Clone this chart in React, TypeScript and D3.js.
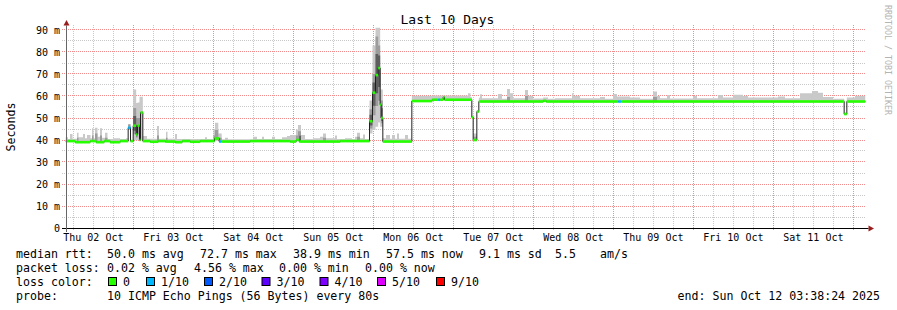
import React from "react";
import * as d3 from "d3";

// ---------- data ----------
const startMs = Date.UTC(2025, 9, 2, 3, 38, 24);
const spanHours = 240;
const title = "Last 10 Days";
const yAxisLabel = "Seconds";
const watermark = "RRDTOOL / TOBI OETIKER";

// median rtt (ms) as steps: hours after start, value, lost pings of 10
const medianHours = [0, 2.9, 7.4, 9.2, 11.6, 13.4, 16.4, 18.8, 19.5, 20.3, 21.2, 21.6, 22.2, 22.5, 23.2, 25.4, 27.8, 29.9, 32.9, 35.0, 37.4, 40.4, 44.7, 46.1, 46.7, 55.4, 67.4, 69.2, 70.1, 82.4, 91.2, 92.1, 93.0, 93.8, 94.4, 94.7, 95.2, 103.9, 110.0, 111.8, 112.4, 113.3, 113.7, 121.9, 122.3, 123.4, 124.0, 143.3, 144.2, 165.8, 166.7, 233.6, 234.4];
const medianValues = [39.5, 39.0, 39.5, 39.0, 39.5, 39.0, 39.5, 45.6, 39.5, 46.5, 42.5, 46.5, 40.0, 52.5, 39.5, 39.2, 39.5, 39.3, 39.0, 39.5, 39.2, 39.5, 40.7, 39.3, 39.3, 39.5, 39.3, 40.0, 39.3, 39.5, 48.5, 61.5, 69.5, 72.7, 56.0, 50.0, 39.3, 57.7, 58.3, 58.3, 58.3, 59.5, 58.3, 50.3, 40.0, 52.9, 57.5, 57.8, 57.5, 57.5, 57.5, 51.8, 57.5];
const medianLoss = [0, 0, 0, 0, 0, 0, 0, 1, 0, 0, 0, 0, 0, 0, 0, 0, 0, 0, 0, 0, 0, 0, 0, 1, 0, 0, 0, 0, 0, 0, 0, 0, 0, 0, 0, 0, 0, 0, 0, 1, 0, 0, 0, 0, 0, 0, 0, 0, 0, 1, 0, 0, 0];

// smoke (spread of the 10 pings): hours after start, max rtt, inner band top, min rtt
const smokeHours = [0, 0.75, 1.35, 2.1, 3.45, 3.9, 5.25, 5.85, 6.45, 7.5, 7.95, 8.4, 8.85, 9.6, 10.35, 10.95, 11.85, 12.6, 14.25, 16.35, 18.15, 18.8, 19.5, 20.3, 21.2, 21.6, 22.2, 23.2, 24.45, 27.45, 28.05, 30.15, 30.6, 32.85, 33.45, 41.85, 42.45, 44.4, 44.85, 45.84, 46.86, 47.85, 48.75, 56.25, 57.45, 58.95, 59.55, 61.95, 62.85, 64.95, 66.45, 67.35, 69.15, 69.75, 70.65, 71.85, 74.25, 76.35, 77.25, 78.15, 80.85, 81.45, 83.85, 85.95, 86.85, 87.45, 88.35, 89.25, 89.85, 91.2, 92.1, 93.0, 93.8, 94.4, 95.2, 96.15, 97.35, 97.95, 98.85, 99.45, 100.05, 101.85, 102.75, 103.9, 110.0, 120.75, 121.5, 121.9, 122.3, 123.4, 124.0, 124.35, 124.95, 129.75, 130.95, 132.45, 133.35, 134.25, 137.85, 138.75, 140.25, 143.3, 144.75, 146.85, 151.95, 152.4, 154.35, 160.35, 161.85, 164.25, 165.45, 169.35, 172.35, 176.25, 177.45, 178.35, 180.45, 181.35, 188.25, 189.45, 195.75, 197.25, 200.25, 203.25, 204.75, 213.75, 215.85, 220.35, 223.95, 225.75, 227.25, 230.25, 233.6, 234.4, 236.85];
const smokeMax = [41.2, 40.5, 42.7, 40.6, 43.3, 41.2, 42.7, 40.8, 42.3, 40.8, 45.3, 40.8, 45.6, 41.5, 45.3, 41.0, 43.3, 40.5, 40.8, 40.5, 40.8, 47.3, 40.0, 63.0, 56.8, 57.0, 59.7, 41.8, 40.6, 46.4, 40.6, 43.8, 40.6, 42.7, 40.5, 41.2, 40.5, 44.8, 47.8, 43.0, 40.3, 41.0, 40.3, 41.5, 40.5, 41.5, 40.5, 41.5, 40.5, 41.2, 41.8, 42.3, 44.8, 46.8, 42.3, 40.5, 40.8, 41.5, 43.0, 40.8, 42.0, 40.5, 40.8, 40.5, 41.5, 43.3, 40.8, 42.5, 40.5, 58.0, 83.0, 91.0, 91.0, 63.0, 40.8, 42.3, 40.6, 42.3, 40.6, 43.0, 40.6, 42.3, 40.6, 60.0, 60.2, 61.2, 59.6, 51.0, 43.0, 53.5, 59.2, 60.8, 59.0, 60.9, 58.8, 63.2, 61.2, 59.0, 62.7, 60.0, 58.9, 59.3, 58.8, 59.0, 61.2, 60.0, 59.0, 59.5, 58.8, 60.9, 59.8, 59.3, 58.8, 62.0, 60.0, 59.0, 60.5, 58.9, 60.0, 59.0, 60.5, 59.3, 60.6, 60.0, 59.3, 59.8, 59.0, 61.2, 62.3, 61.5, 59.5, 58.8, 52.5, 59.3, 60.0];
const smokeInner: (number | null)[] = [null, null, null, null, 41.0, null, null, null, null, null, 42.0, null, 43.0, null, 42.0, null, 41.0, null, null, null, null, 47.0, null, 54.5, 50.0, 50.0, 50.0, null, null, 42.0, null, 41.0, null, null, null, null, null, 42.0, 44.5, 41.0, null, null, null, null, null, null, null, null, null, null, null, null, 42.0, 44.0, null, null, null, null, 41.0, null, null, null, null, null, null, 41.5, null, null, null, 54.0, 70.0, 87.0, 83.0, 58.0, null, null, null, null, null, null, null, null, null, null, null, null, null, null, 41.5, null, null, null, null, null, null, 59.5, null, null, 60.0, null, null, null, null, null, null, null, null, null, null, null, null, null, null, 59.5, null, null, null, null, null, null, null, null, null, null, null, null, null, null, null, null, null, null, null, null, null];
const smokeMin: (number | null)[] = [null, null, null, null, null, null, null, null, null, null, null, null, null, null, null, null, null, null, null, null, null, 44.5, null, 40.0, 40.0, 40.0, 40.0, null, null, null, null, null, null, null, null, null, null, null, 39.5, null, null, null, null, null, null, null, null, null, null, null, null, null, null, null, null, null, null, null, null, null, null, null, null, null, null, null, null, null, null, 43.0, 44.5, 46.0, 48.0, 46.0, null, null, null, null, null, null, null, null, null, null, null, null, null, null, null, null, null, null, null, null, null, null, null, null, null, null, null, null, null, null, null, null, null, null, null, null, null, null, null, null, null, null, null, null, null, null, null, null, null, null, null, null, null, null, null, null, null, null, null, null, null];

const yTickValues = [0, 10, 20, 30, 40, 50, 60, 70, 80, 90];
const lossLabels = ["0", "1/10", "2/10", "3/10", "4/10", "5/10", "9/10"];
const lossColors = ["#26ff00", "#00b8ff", "#0059ff", "#5e00ff", "#7e00ff", "#dd00ff", "#ff0000"];

const legendRtt = ["median rtt:", "50.0 ms avg", "72.7 ms max", "38.9 ms min", "57.5 ms now", "9.1 ms sd", "5.5", "am/s"];
const legendLoss = ["packet loss:", "0.02 % avg", "4.56 % max", "0.00 % min", "0.00 % now"];
const legendLossTitle = "loss color:";
const legendProbe = ["probe:", "10 ICMP Echo Pings (56 Bytes) every 80s"];
const legendEnd = "end: Sun Oct 12 03:38:24 2025";

// ---------- layout ----------
const W = 897;
const H = 310;
const X0 = 65.5;
const X1 = 865.5;
const Y0 = 228;
const YTOP = 25;
const FONT = "'DejaVu Sans Mono', monospace";

const rttX = [16, 107, 200, 293, 386, 479, 555, 600];
const lossX = [16, 107, 194, 279, 365];
const boxX = [108, 146, 204, 261.5, 319.5, 377, 436];

const hourDate = (h: number) => new Date(startMs + h * 3600e3);
const endDate = hourDate(spanHours);

function lossIndex(n: number) {
  if (n <= 4) return n;
  if (n <= 8) return 5;
  return 6;
}

function lastIndex(arr: number[], t: number) {
  let idx = 0;
  for (let k = 0; k < arr.length; k++) if (arr[k] <= t + 1e-9) idx = k;
  return idx;
}

export default function App() {
  const x = d3.scaleUtc().domain([new Date(startMs), endDate]).range([X0, X1]);
  const y = d3.scaleLinear().domain([0, (Y0 - YTOP) / 2.2]).range([Y0, YTOP]);
  const crisp = (v: number) => Math.floor(v) + 0.5;

  // merged segments for smoke
  const times = Array.from(new Set([...medianHours, ...smokeHours])).sort((a, b) => a - b);
  type Seg = { t: number; m: number; lo: number; hi: number; inner: number | null };
  const segs: Seg[] = times.map((t) => {
    const mi = lastIndex(medianHours, t);
    const si = lastIndex(smokeHours, t);
    const m = medianValues[mi];
    const hi = Math.max(smokeMax[si], m + 0.3);
    const mn = smokeMin[si];
    const lo = mn != null ? Math.min(mn, m - 0.4) : m - 0.4;
    const inn = smokeInner[si];
    return { t, m, lo, hi, inner: inn != null && inn > m ? inn : null };
  });
  segs.push({ ...segs[segs.length - 1], t: spanHours });

  const outerArea = d3
    .area<Seg>()
    .x((d) => x(hourDate(d.t)))
    .y0((d) => y(d.lo))
    .y1((d) => y(d.hi))
    .curve(d3.curveStepAfter);
  const innerArea = d3
    .area<Seg>()
    .x((d) => x(hourDate(d.t)))
    .y0((d) => (d.inner != null ? y(d.m - (d.m - d.lo) * 0.6) : y(d.m)))
    .y1((d) => (d.inner != null ? y(d.inner) : y(d.m)))
    .curve(d3.curveStepAfter);
  const coreArea = d3
    .area<Seg>()
    .x((d) => x(hourDate(d.t)))
    .y0((d) => (d.inner != null && d.inner - d.m > 4 ? y(d.m - (d.m - d.lo) * 0.35) : y(d.m)))
    .y1((d) => (d.inner != null && d.inner - d.m > 4 ? y(d.m + (d.inner - d.m) * 0.55) : y(d.m)))
    .curve(d3.curveStepAfter);

  const medPts = medianHours.map((h, i) => ({ h, v: medianValues[i] }));
  medPts.push({ h: spanHours, v: medianValues[medianValues.length - 1] });
  const medLine = d3
    .line<{ h: number; v: number }>()
    .x((d) => x(hourDate(d.h)))
    .y((d) => y(d.v))
    .curve(d3.curveStepAfter);

  // grid
  const days = d3.utcDay.range(new Date(startMs), endDate);
  const sixHours = d3.utcHour.every(6)!.range(new Date(startMs), endDate).filter((d) => d.getUTCHours() !== 0);
  const noons = d3.utcHour.every(12)!.range(new Date(startMs), endDate).filter((d) => d.getUTCHours() === 12);
  const fmt = d3.utcFormat("%a %d %b");
  const minorY = d3.range(5, 91, 10);
  const majorY = yTickValues.filter((v) => v > 0);

  const minorCol = "#c8c8c8";
  const majorCol = "#f08c8c";

  return (
    <svg width={W} height={H} style={{ position: "absolute", left: 0, top: 0, background: "#fff" }} fontFamily={FONT}>
      <rect x={0} y={0} width={W} height={H} fill="#fff" />
      <defs>
        <clipPath id="plotclip">
          <rect x={X0} y={YTOP} width={X1 - X0} height={Y0 - YTOP} />
        </clipPath>
      </defs>
      {/* minor grid */}
      {minorY.map((v) => (
        <line key={"my" + v} x1={62} x2={X1} y1={crisp(y(v))} y2={crisp(y(v))} stroke={minorCol} strokeDasharray="1,1" />
      ))}
      {sixHours.map((d) => (
        <line key={"mx" + d.getTime()} x1={crisp(x(d))} x2={crisp(x(d))} y1={YTOP} y2={230} stroke={minorCol} strokeDasharray="1,1" />
      ))}
      {/* major grid */}
      {majorY.map((v) => (
        <line key={"My" + v} x1={62} x2={X1} y1={crisp(y(v))} y2={crisp(y(v))} stroke={majorCol} strokeDasharray="1,1" />
      ))}
      {days.map((d) => (
        <line key={"Mx" + d.getTime()} x1={crisp(x(d))} x2={crisp(x(d))} y1={YTOP} y2={231} stroke={majorCol} strokeDasharray="1,1" />
      ))}

      {/* smoke */}
      <g clipPath="url(#plotclip)">
        <path d={outerArea(segs) || ""} fill="#c9c9c9" />
        <path d={innerArea(segs) || ""} fill="#9c9c9c" />
        <path d={coreArea(segs) || ""} fill="#5e5e5e" />
        <path d={medLine(medPts) || ""} fill="none" stroke="#202020" strokeWidth={1} />
        {medianHours.map((h, i) => {
          const xa = x(hourDate(h));
          const xb = x(hourDate(i + 1 < medianHours.length ? medianHours[i + 1] : spanHours));
          const yv = y(medianValues[i]);
          return (
            <rect
              key={"m" + i}
              x={xa}
              width={Math.max(0, xb - xa)}
              y={yv - 1.3}
              height={2.6}
              fill={lossColors[lossIndex(medianLoss[i])]}
            />
          );
        })}
      </g>

      {/* axes */}
      <line x1={62} x2={868.5} y1={crisp(Y0)} y2={crisp(Y0)} stroke="#000" />
      <line x1={66.5} x2={66.5} y1={232} y2={25.5} stroke="#666" />
      <polygon points="868.5,225.5 868.5,231.5 874,228.5" fill="#9b1c1c" />
      <polygon points="66.5,20 63.5,25.5 69.5,25.5" fill="#9b1c1c" />

      {/* y labels */}
      {yTickValues.map((v) => (
        <text key={"yl" + v} x={60} y={y(v) + 3.6} fontSize={10} textAnchor="end" fill="#000">
          {v === 0 ? "0" : `${v} m`}
        </text>
      ))}
      {/* x labels */}
      {noons.map((d) => (
        <text key={"xl" + d.getTime()} x={x(d)} y={241} fontSize={10} textAnchor="middle" fill="#000">
          {fmt(d)}
        </text>
      ))}

      <text x={447.5} y={24} fontSize={13} textAnchor="middle" fill="#000">
        {title}
      </text>
      <text transform="translate(15,127) rotate(-90)" fontSize={11.6} textAnchor="middle" fill="#000">
        {yAxisLabel}
      </text>
      <text transform="translate(885,5) rotate(90)" fontSize={8.3} fill="#b4b4b4">
        {watermark}
      </text>

      {/* legend */}
      <g fontSize={11.6} fill="#000">
        {legendRtt.map((s, i) => (
          <text key={"r" + i} x={rttX[i]} y={257.5}>
            {s}
          </text>
        ))}
        {legendLoss.map((s, i) => (
          <text key={"l" + i} x={lossX[i]} y={271.7}>
            {s}
          </text>
        ))}
        <text x={16} y={285.9}>
          {legendLossTitle}
        </text>
        {lossLabels.map((s, i) => (
          <g key={"b" + i}>
            <rect x={boxX[i] + 0.5} y={277.5} width={8} height={8} fill={lossColors[i]} stroke="#000" strokeWidth={1} />
            <text x={boxX[i] + 15} y={285.9}>
              {s}
            </text>
          </g>
        ))}
        <text x={legendProbe.length ? 16 : 0} y={300}>
          {legendProbe[0]}
        </text>
        <text x={107} y={300}>
          {legendProbe[1]}
        </text>
        <text x={880} y={300} textAnchor="end">
          {legendEnd}
        </text>
      </g>
    </svg>
  );
}
